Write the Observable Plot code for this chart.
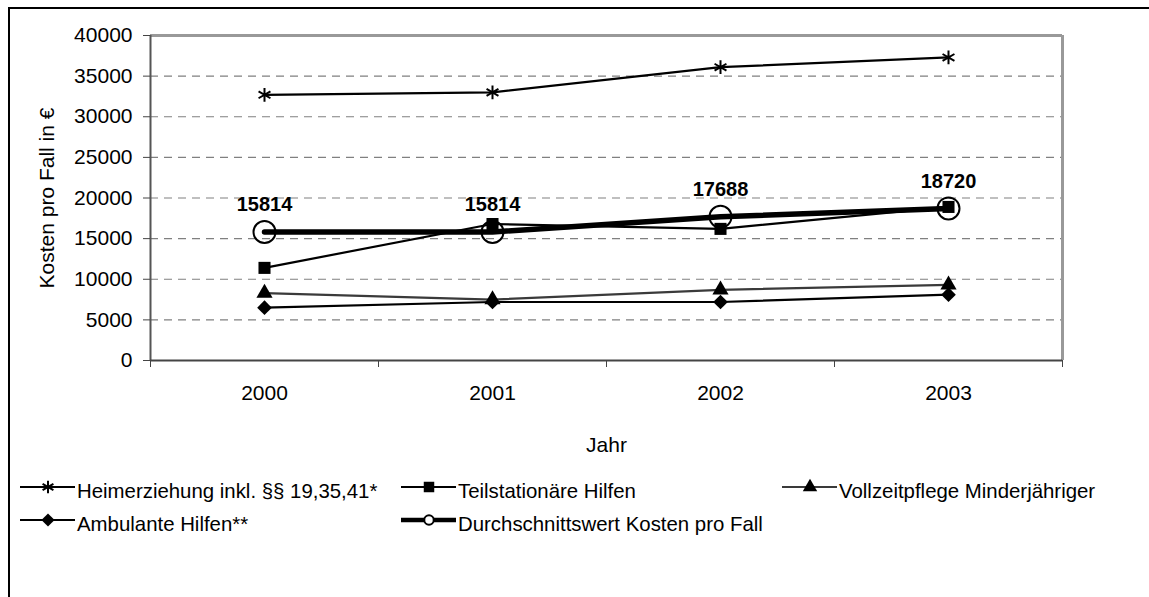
<!DOCTYPE html>
<html><head><meta charset="utf-8">
<script src="https://cdn.jsdelivr.net/npm/d3@7"></script>
<script src="https://cdn.jsdelivr.net/npm/@observablehq/plot@0.6"></script>
<style>
body{margin:0;background:#fff;font-family:"Liberation Sans",Arial,sans-serif;}
#wrap{position:relative;width:1149px;height:597px;overflow:hidden;background:#fff;}
#border{position:absolute;left:8px;top:7px;width:1200px;height:700px;border:2px solid #000;box-sizing:border-box;}
#chart{position:absolute;left:0;top:0;}
.lg-sym{position:absolute;}
.lg-txt{position:absolute;font-size:20.4px;line-height:20px;white-space:nowrap;color:#000;}
</style></head><body>
<div id="wrap"><div id="border"></div><div id="chart"></div><div id="legend"></div></div>
<script>
// ---- data ----
const years = [2000, 2001, 2002, 2003];
const heimerziehung = [32700, 33000, 36100, 37300];
const teilstationaer = [11400, 16800, 16200, 18900];
const vollzeitpflege = [8300, 7500, 8700, 9300];
const ambulante = [6500, 7200, 7200, 8100];
const durchschnitt = [15814, 15814, 17688, 18720];
const yTicks = [0, 5000, 10000, 15000, 20000, 25000, 30000, 35000, 40000];
const seriesNames = [
  "Heimerziehung inkl. §§ 19,35,41*",
  "Teilstationäre Hilfen",
  "Vollzeitpflege Minderjähriger",
  "Ambulante Hilfen**",
  "Durchschnittswert Kosten pro Fall"
];
const yLabel = "Kosten pro Fall in €";
const xLabel = "Jahr";

const rows = vals => years.map((year, i) => ({year, value: vals[i]}));
const bounds = years.map(y => y - 0.5).concat([years[years.length - 1] + 0.5]);
const FONT = '"Liberation Sans", Arial, sans-serif';

const chart = Plot.plot({
  width: 1149, height: 470,
  marginLeft: 150, marginRight: 87, marginTop: 35, marginBottom: 110,
  x: {type: "linear", domain: [bounds[0], bounds[bounds.length - 1]], label: null},
  y: {domain: [0, 40000], label: null},
  style: {fontFamily: FONT, fontSize: "21px", background: "transparent", color: "#000"},
  marks: [
    Plot.gridY(yTicks.slice(1, -1), {stroke: "#808080", strokeOpacity: 1, strokeWidth: 1.2, strokeDasharray: "8,6"}),
    Plot.ruleY([yTicks[yTicks.length - 1]], {stroke: "#999", strokeWidth: 3}),
    Plot.ruleX([bounds[bounds.length - 1]], {stroke: "#999", strokeWidth: 3}),
    Plot.ruleX([bounds[0]], {stroke: "#555", strokeWidth: 2}),
    Plot.ruleY([0], {stroke: "#444", strokeWidth: 2}),
    Plot.axisY(yTicks, {tickFormat: "d", tickSize: 7, tickPadding: 11, label: null, fontSize: 21, stroke: "#444"}),
    Plot.axisX(bounds, {tickFormat: () => "", tickSize: 7, label: null, stroke: "#444"}),
    Plot.axisX(years, {tickFormat: "d", tickSize: 0, tickPadding: 25, label: null, fontSize: 21}),
    Plot.text([yLabel], {frameAnchor: "left", textAnchor: "middle", dx: -103, rotate: -90, fontSize: 21}),
    Plot.text([xLabel], {frameAnchor: "bottom", textAnchor: "middle", dy: 91, fontSize: 21}),

    Plot.line(rows(heimerziehung), {x: "year", y: "value", stroke: "#000", strokeWidth: 2.2}),
    Plot.dot(rows(heimerziehung), {x: "year", y: "value", symbol: "asterisk", r: 6.5, stroke: "#000", strokeWidth: 2}),

    Plot.line(rows(teilstationaer), {x: "year", y: "value", stroke: "#000", strokeWidth: 2.2}),
    Plot.dot(rows(teilstationaer), {x: "year", y: "value", symbol: "square", r: 6.8, fill: "#000", stroke: "none"}),

    Plot.line(rows(vollzeitpflege), {x: "year", y: "value", stroke: "#3a3a3a", strokeWidth: 2.2}),
    Plot.dot(rows(vollzeitpflege), {x: "year", y: "value", symbol: "triangle", r: 6, fill: "#000", stroke: "none"}),

    Plot.line(rows(ambulante), {x: "year", y: "value", stroke: "#000", strokeWidth: 2.2}),
    Plot.dot(rows(ambulante), {x: "year", y: "value", symbol: "diamond2", r: 6.6, fill: "#000", stroke: "none"}),

    Plot.line(rows(durchschnitt), {x: "year", y: "value", stroke: "#000", strokeWidth: 5.5}),
    Plot.dot(rows(durchschnitt), {x: "year", y: "value", symbol: "circle", r: 11, fill: "none", stroke: "#000", strokeWidth: 2}),
    Plot.text(rows(durchschnitt), {x: "year", y: "value", text: d => String(d.value), dy: -27, fontWeight: "bold", fontSize: 20})
  ]
});
document.getElementById("chart").appendChild(chart);

// ---- legend ----
const legendItems = [
  {name: seriesNames[0], sym: d3.symbolAsterisk, size: 110, fill: "none", stroke: "#000", lw: 2, lc: "#000", col: 0, row: 0},
  {name: seriesNames[1], sym: d3.symbolSquare, size: 110, fill: "#000", stroke: "none", lw: 2, lc: "#000", col: 1, row: 0},
  {name: seriesNames[2], sym: d3.symbolTriangle, size: 90, fill: "#000", stroke: "none", lw: 2, lc: "#3a3a3a", col: 2, row: 0},
  {name: seriesNames[3], sym: d3.symbolDiamond2, size: 110, fill: "#000", stroke: "none", lw: 2, lc: "#000", col: 0, row: 1},
  {name: seriesNames[4], sym: d3.symbolCircle, size: 70, fill: "#fff", stroke: "#000", lw: 4.5, lc: "#000", col: 1, row: 1}
];
const colX = [20, 401, 782];
const rowY = [487, 520];
const lg = d3.select("#legend");
legendItems.forEach(it => {
  const x0 = colX[it.col], yc = rowY[it.row];
  const svg = lg.append("svg").attr("class", "lg-sym").attr("width", 56).attr("height", 24)
    .style("left", x0 + "px").style("top", (yc - 12) + "px");
  svg.append("line").attr("x1", 0).attr("x2", 55).attr("y1", 12).attr("y2", 12)
    .attr("stroke", it.lc).attr("stroke-width", it.lw);
  svg.append("path").attr("d", d3.symbol(it.sym, it.size)()).attr("transform", "translate(28,12)")
    .attr("fill", it.fill).attr("stroke", it.stroke).attr("stroke-width", 2);
  lg.append("div").attr("class", "lg-txt").style("left", (x0 + 57) + "px").style("top", (yc - 6) + "px").text(it.name);
});
</script>
</body></html>
